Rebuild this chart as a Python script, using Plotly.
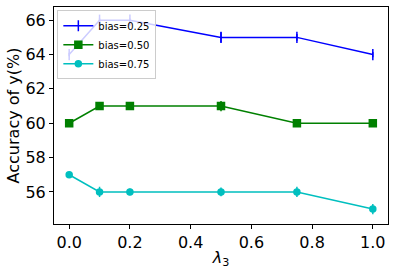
import plotly.graph_objects as go

lam = [0.0, 0.1, 0.2, 0.5, 0.75, 1.0]
acc_025 = [64, 66, 66, 65, 65, 64]
err_025 = [0.1, 0.1, 0.1, 0.3, 0.2, 0.15]
acc_050 = [60, 61, 61, 61, 60, 60]
err_050 = [0.1, 0.1, 0.2, 0.3, 0.1, 0.2]
acc_075 = [57, 56, 56, 56, 56, 55]
err_075 = [0.1, 0.3, 0.2, 0.25, 0.3, 0.3]
labels = ["bias=0.25", "bias=0.50", "bias=0.75"]
colors = ["#0000ff", "#008000", "#00bfbf"]
symbols = ["line-ns-open", "square", "circle"]
sizes = [8, 7, 6]

fig = go.Figure()
for y, e, lab, c, s, sz in zip([acc_025, acc_050, acc_075], [err_025, err_050, err_075],
                               labels, colors, symbols, sizes):
    fig.add_trace(go.Scatter(
        x=lam, y=y, name=lab, mode="lines+markers",
        line=dict(color=c, width=1.5),
        marker=dict(symbol=s, size=sz, color=c, line=dict(color=c, width=1.5)),
        error_y=dict(type="data", array=e, visible=True, color=c, thickness=1.5, width=0),
    ))

fig.update_layout(
    width=395, height=276,
    margin=dict(l=54, r=7, t=7, b=52),
    paper_bgcolor="white", plot_bgcolor="white",
    font=dict(family="DejaVu Sans", color="black"),
    showlegend=True,
    legend=dict(x=0.01, y=0.985, xanchor="left", yanchor="top",
                bgcolor="rgba(255,255,255,0.8)", bordercolor="#cccccc", borderwidth=1,
                font=dict(size=10), tracegroupgap=0, itemwidth=30),
)
fig.update_xaxes(
    range=[-0.05, 1.05], tickvals=[0.0, 0.2, 0.4, 0.6, 0.8, 1.0],
    ticktext=["0.0", "0.2", "0.4", "0.6", "0.8", "1.0"],
    ticks="outside", ticklen=4, tickcolor="black", tickfont=dict(size=16),
    showline=True, linecolor="black", linewidth=1, mirror=True, showgrid=False, zeroline=False,
    title=dict(text="<i>λ</i><sub>3</sub>", font=dict(size=16), standoff=0),
)
fig.update_yaxes(
    range=[54.13, 66.77], tickvals=[56, 58, 60, 62, 64, 66],
    ticks="outside", ticklen=4, tickcolor="black", tickfont=dict(size=16),
    showline=True, linecolor="black", linewidth=1, mirror=True, showgrid=False, zeroline=False,
    title=dict(text="Accuracy of y(%)", font=dict(size=16), standoff=1),
)
fig.write_html("out.html")
